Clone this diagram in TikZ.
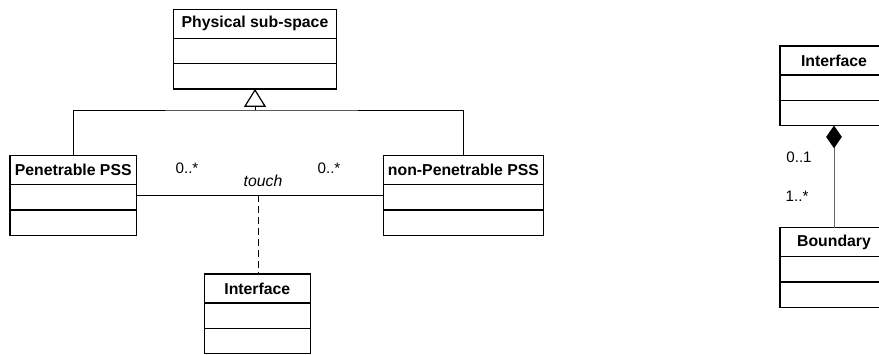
\documentclass[tikz,border=0pt]{standalone}
\usepackage{fontspec}
\setmainfont{Liberation Sans}
\usetikzlibrary{positioning,arrows.meta}

\tikzset{
  classhead/.style={draw, line width=1.2pt, outer sep=0pt, inner sep=0pt, minimum height=29pt, font=\fontsize{15.8}{18}\selectfont\bfseries},
  classrow/.style={draw, line width=1.2pt, outer sep=0pt, inner sep=0pt, minimum height=25.3pt},
  mult/.style={font=\fontsize{15.2}{18}\selectfont},
  link/.style={line width=0.9pt},
}

\begin{document}
\begin{tikzpicture}[x=1pt,y=-1pt]
\useasboundingbox (0,0) rectangle (879,354);

% left diagram
\node[classhead,minimum width=163pt] (pss) at(255,23.8) {Physical sub-space};
\node[classrow,minimum width=163pt,below=0pt of pss] (pss2) {};
\node[classrow,minimum width=163pt,below=0pt of pss2] (pss3) {};

\node[classhead,minimum width=126.4pt] (pen) at(73.2,170.2) {Penetrable PSS};
\node[classrow,minimum width=126.4pt,below=0pt of pen] (pen2) {};
\node[classrow,minimum width=126.4pt,below=0pt of pen2] (pen3) {};

\node[classhead,minimum width=160.5pt] (npen) at(463.5,170.2) {non-Penetrable PSS};
\node[classrow,minimum width=160.5pt,below=0pt of npen] (npen2) {};
\node[classrow,minimum width=160.5pt,below=0pt of npen2] (npen3) {};

\node[classhead,minimum width=106pt] (iface) at(257.3,288.5) {Interface};
\node[classrow,minimum width=106pt,below=0pt of iface] (iface2) {};
\node[classrow,minimum width=106pt,below=0pt of iface2] (iface3) {};

% generalization
\coordinate (gen) at(255,110);
\draw[link,-{Triangle[open,length=18pt,width=22pt,line width=1.2pt]}] (gen) -- (pss3.south);
\draw[link] (pen.north) |- (gen) -| (npen.north);

% association with class
\draw[link] ([yshift=2pt]pen2.east) -- ([yshift=2pt]npen2.west);
\coordinate (touchpt) at(258.3,195);
\draw[link,dashed,dash pattern=on 7pt off 4pt] (touchpt) -- (touchpt |- iface.north);
\node[mult] (m1) at(187,168) {0..*};
\node[mult] (m2) at(329,168) {0..*};
\node[mult,font=\fontsize{15.8}{18}\selectfont\itshape] (touch) at(263,181) {touch};

% right diagram
\node[classhead,minimum width=108pt] (intf) at(834,60.5) {Interface};
\node[classrow,minimum width=108pt,below=0pt of intf] (intf2) {};
\node[classrow,minimum width=108pt,below=0pt of intf2] (intf3) {};

\node[classhead,minimum width=108pt] (bnd) at(834,242.2) {Boundary};
\node[classrow,minimum width=108pt,below=0pt of bnd] (bnd2) {};
\node[classrow,minimum width=108pt,below=0pt of bnd2] (bnd3) {};

\draw[link,draw=black!60,-{Diamond[length=22.6pt,width=15.7pt,fill=black,color=black]}] (bnd.north) -- (intf3.south);
\node[mult] (m3) at(799,157) {0..1};
\node[mult] (m4) at(797,196) {1..*};

\end{tikzpicture}
\end{document}
